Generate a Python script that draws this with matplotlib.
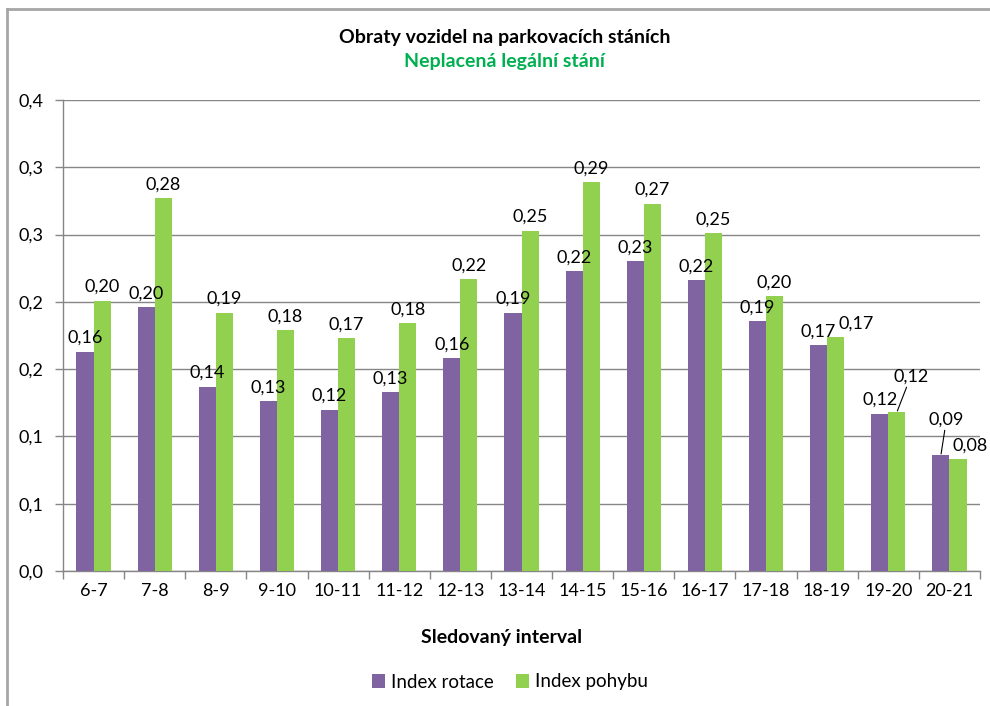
import numpy as np
import matplotlib
matplotlib.use("Agg")
import matplotlib.pyplot as plt
from matplotlib.lines import Line2D

plt.rcParams['font.family'] = ['Lato', 'DejaVu Sans']

# data
intervals = ["6-7", "7-8", "8-9", "9-10", "10-11", "11-12", "12-13", "13-14",
             "14-15", "15-16", "16-17", "17-18", "18-19", "19-20", "20-21"]
index_rotace = [0.163, 0.196, 0.137, 0.126, 0.120, 0.133, 0.158, 0.192,
                0.223, 0.230, 0.216, 0.186, 0.168, 0.117, 0.086]
index_pohybu = [0.201, 0.277, 0.192, 0.179, 0.173, 0.184, 0.217, 0.253,
                0.289, 0.273, 0.251, 0.204, 0.174, 0.118, 0.083]
yticks = [0.0, 0.05, 0.10, 0.15, 0.20, 0.25, 0.30, 0.35]
ytick_labels = ["0,0", "0,1", "0,1", "0,2", "0,2", "0,3", "0,3", "0,4"]

purple = "#8064a2"
green = "#92d050"
grid_col = "#868686"
lbl_size = 13

fig = plt.figure(figsize=(9.9, 7.06), dpi=100)
ax = fig.add_axes([63/990, 1 - 571/706, 917/990, 471/706])

x = np.arange(len(intervals))
w = 0.28
b1 = ax.bar(x - w/2, index_rotace, w, color=purple, label="Index rotace", zorder=3)
b2 = ax.bar(x + w/2, index_pohybu, w, color=green, label="Index pohybu", zorder=3)

ax.set_xlim(-0.5, len(intervals) - 0.5)
ax.set_ylim(0, 0.35)
ax.set_yticks(yticks)
ax.set_yticklabels(ytick_labels, fontsize=lbl_size)
ax.set_xticks(x)
ax.set_xticklabels(intervals, fontsize=lbl_size)
ax.set_xticks(np.arange(len(intervals) + 1) - 0.5, minor=True)
ax.tick_params(axis="x", which="major", length=0, pad=9)
ax.tick_params(axis="x", which="minor", length=6, color=grid_col, width=1)
ax.tick_params(axis="y", length=6, color=grid_col, width=1, pad=8)

ax.yaxis.grid(True, color=grid_col, linewidth=1)
ax.set_axisbelow(True)
for s in ["top", "right"]:
    ax.spines[s].set_visible(False)
for s in ["left", "bottom"]:
    ax.spines[s].set_color(grid_col)
    ax.spines[s].set_linewidth(1)


def fmt(v):
    return f"{v:.2f}".replace(".", ",")


def label(val, xpos, dx=0, dy=4, leader=False):
    kw = {}
    if leader:
        kw["arrowprops"] = dict(arrowstyle="-", color="black", lw=0.8,
                                shrinkA=0, shrinkB=1)
    ax.annotate(fmt(val), (xpos, val), xytext=(dx, dy), textcoords="offset points",
                ha="center", va="bottom", fontsize=lbl_size, **kw)


# data labels, a few are shifted like in the original (with leader lines at the end)
n = len(intervals)
for i, (r, p) in enumerate(zip(index_rotace, index_pohybu)):
    xr, xp = x[i] - w/2, x[i] + w/2
    if i == n - 2:
        label(r, xr)
        label(p, xp, dx=10, dy=20, leader=True)
    elif i == n - 1:
        label(r, xr, dx=4, dy=20, leader=True)
        label(p, xp, dx=9, dy=4)
    elif i == n - 3:
        label(r, xr)
        label(p, xp, dx=15, dy=4)
    else:
        label(r, xr)
        label(p, xp)

fig.text(0.51, 1 - 37/706, "Obraty vozidel na parkovacích stáních",
         ha="center", va="center", fontsize=14, fontweight="bold")
fig.text(0.51, 1 - 62/706, "Neplacená legální stání",
         ha="center", va="center", fontsize=14, fontweight="bold", color="#00b050")
fig.text(0.507, 1 - 637/706, "Sledovaný interval",
         ha="center", va="center", fontsize=14, fontweight="bold")

fig.legend(handles=[b1, b2], loc="center", bbox_to_anchor=(0.515, 1 - 682/706),
           ncol=2, frameon=False, fontsize=13.5, handlelength=0.7, handleheight=0.7,
           handletextpad=0.3, columnspacing=1.2)

# chart border (only top and left visible in the reference)
fig.add_artist(Line2D([7/990, 1], [1 - 9/706, 1 - 9/706], color="#a6a6a6",
                      lw=2, transform=fig.transFigure))
fig.add_artist(Line2D([7/990, 7/990], [0, 1 - 9/706], color="#a6a6a6",
                      lw=2, transform=fig.transFigure))

fig.savefig("out.png", dpi=100)
